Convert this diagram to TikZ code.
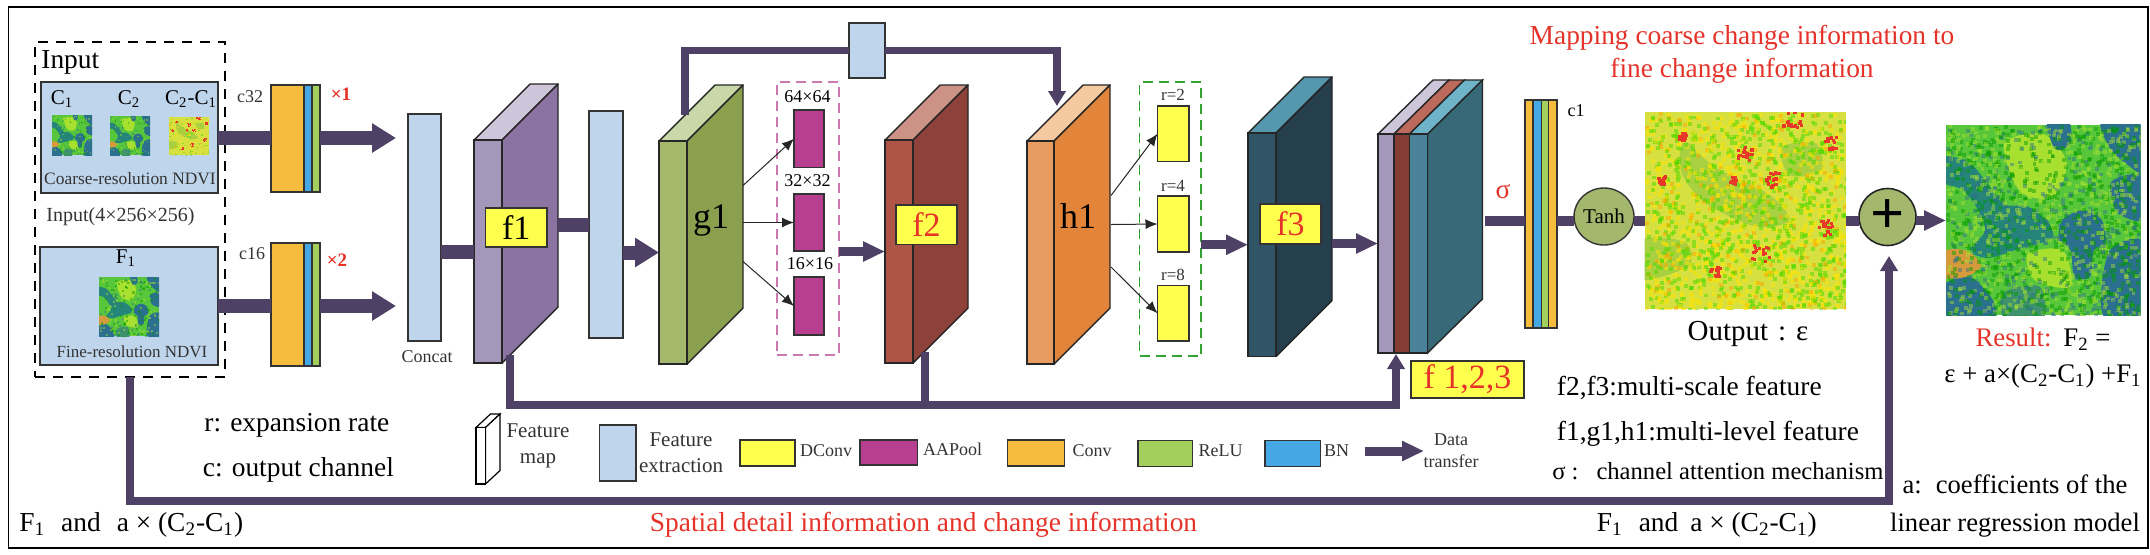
\documentclass[tikz,border=0pt]{standalone}
\usepackage{fontspec}
\setmainfont{Liberation Serif}
\usetikzlibrary{shapes.geometric, arrows.meta}
\definecolor{flowpurple}{HTML}{4F4066}
\definecolor{inputblue}{HTML}{BFD5EB}
\definecolor{dconvyellow}{HTML}{FFFF4D}
\definecolor{poolpurple}{HTML}{B83F90}
\definecolor{convorange}{HTML}{F5BC3E}
\definecolor{bnblue}{HTML}{45A8E4}
\definecolor{relugreen}{HTML}{A3CF5C}
\definecolor{notered}{HTML}{E5332A}
\definecolor{tanhgreen}{HTML}{A3B86C}
\definecolor{fonefront}{HTML}{A597B9}
\definecolor{foneside}{HTML}{8B74A1}
\definecolor{fonetop}{HTML}{CDC6DA}
\definecolor{gonefront}{HTML}{A4B96B}
\definecolor{goneside}{HTML}{8AA04F}
\definecolor{gonetop}{HTML}{C9D8A9}
\definecolor{ftwofront}{HTML}{AE5548}
\definecolor{ftwoside}{HTML}{8E4138}
\definecolor{ftwotop}{HTML}{CC9285}
\definecolor{honefront}{HTML}{E89C60}
\definecolor{honeside}{HTML}{E2843A}
\definecolor{honetop}{HTML}{F5C9A0}
\definecolor{fthreefront}{HTML}{2F5566}
\definecolor{fthreeside}{HTML}{253F4D}
\definecolor{fthreetop}{HTML}{5597AE}
\definecolor{stackbrown}{HTML}{843C33}
\definecolor{stackred}{HTML}{BB6A5C}
\definecolor{stackteal}{HTML}{4A8399}
\definecolor{stackside}{HTML}{376978}
\definecolor{stacktop}{HTML}{6FB3C9}
\definecolor{ndviblue}{HTML}{2C7090}
\definecolor{ndvigreen}{HTML}{58C63A}
\definecolor{ndvilime}{HTML}{A8E030}
\definecolor{ndviorange}{HTML}{D49A3C}
\definecolor{changeyellow}{HTML}{D6E040}
\definecolor{changegreen}{HTML}{A8D040}
\definecolor{changered}{HTML}{E8382A}
\newcommand{\fsz}[2]{\fontsize{#1pt}{#2pt}\selectfont}
% box from its corners, given in pixels
\newcommand{\pxbox}[7][]{%
  \node[minimum width={(#5-(#3))*0.5pt}, minimum height={(#6-(#4))*0.5pt}, inner sep=0pt, outer sep=0pt, #1] (#2)
    at ({(#3+#5)/2},{(#4+#6)/2}) {#7};}
% feature map block: name, x0, ytop, x1, ybottom, depth, front, side, top
\newcommand{\featblock}[9]{%
  \fill[#9, draw=black!85, line width=.7pt, line join=round] (#2,#3) -- ({#2+#6},{#3-#6}) -- ({#4+#6},{#3-#6}) -- (#4,#3) -- cycle;
  \fill[#8, draw=black!85, line width=.7pt, line join=round] (#4,#3) -- ({#4+#6},{#3-#6}) -- ({#4+#6},{#5-#6}) -- (#4,#5) -- cycle;
  \pxbox[draw=black!85, line width=.7pt, fill=#7]{#1}{#2}{#3}{#4}{#5}{}
  \coordinate (#1-r) at ({#4+#6},{(#3+#5-#6)/2});}
% satellite patches: name, corners, speckle count
\newcommand{\finepatch}[6]{%
  \pxbox[fill=ndvigreen]{#1}{#2}{#3}{#4}{#5}{}
  \begin{scope}[shift={(#2,#3)}, x={0.5pt*(#4-#2)}, y={0.5pt*(#3-#5)}]
    \clip (0,0) rectangle (1,1);
    \fill[ndvilime] plot[smooth cycle] coordinates {(.3,.1) (.5,.05) (.62,.2) (.55,.38) (.38,.35)};
    \fill[ndvilime] plot[smooth cycle] coordinates {(.42,.68) (.6,.66) (.64,.85) (.46,.82)};
    \fill[ndviblue!85!green] plot[smooth cycle] coordinates {(-.02,.17) (.12,.2) (.22,.32) (.3,.42) (.42,.43) (.53,.52) (.54,.6) (.38,.65) (.22,.7) (.12,.66) (.2,.56) (.16,.44) (.08,.34) (-.02,.3)};
    \fill[ndviblue] plot[smooth cycle] coordinates {(.6,.5) (.7,.45) (.8,.5) (.82,.62) (.76,.66) (.74,.8) (.66,.8) (.64,.66) (.58,.6)};
    \fill[ndviblue] plot[smooth cycle] coordinates {(.52,-.02) (.63,-.02) (.64,.1) (.56,.13)};
    \fill[ndviblue] plot[smooth cycle] coordinates {(.8,-.02) (1.02,-.02) (1.02,.25) (.92,.2) (.84,.12)};
    \fill[ndviblue] plot[smooth cycle] coordinates {(.85,.3) (1.02,.27) (1.02,.5) (.88,.46)};
    \fill[ndviblue] plot[smooth cycle] coordinates {(.85,.65) (1.02,.62) (1.02,1.02) (.82,1.02) (.8,.85)};
    \fill[ndviblue] plot[smooth cycle] coordinates {(-.02,.85) (.12,.8) (.24,.92) (.24,1.02) (-.02,1.02)};
    \fill[ndviblue!60!ndvigreen] plot[smooth cycle] coordinates {(.3,.88) (.48,.85) (.5,1.02) (.3,1.02)};
    \fill[ndviorange] plot[smooth cycle] coordinates {(-.02,.67) (.1,.66) (.18,.74) (.1,.8) (-.02,.8)};
    \pgfmathsetseed{17}
    \pgfmathsetmacro\spk{min(.035,36/#6)}
    \foreach \i in {1,...,#6} {
      \pgfmathsetmacro\px{rnd}
      \pgfmathsetmacro\py{rnd}
      \pgfmathtruncatemacro\pick{mod(\i,5)}
      \ifnum\pick<2 \def\speck{ndvilime}\else\ifnum\pick=2 \def\speck{ndviblue}\else \def\speck{green!60!black}\fi\fi
      \fill[\speck, opacity=.45] (\px,\py) rectangle +(\spk,\spk);
    }
  \end{scope}}
\newcommand{\changepatch}[6]{%
  \pxbox[fill=changeyellow]{#1}{#2}{#3}{#4}{#5}{}
  \begin{scope}[shift={(#2,#3)}, x={0.5pt*(#4-#2)}, y={0.5pt*(#3-#5)}]
    \clip (0,0) rectangle (1,1);
    \fill[changegreen] plot[smooth cycle] coordinates {(.68,.18) (.85,.16) (.88,.3) (.72,.32)};
    \fill[changegreen] plot[smooth cycle] coordinates {(.2,.15) (.35,.28) (.62,.42) (.72,.55) (.55,.58) (.3,.46) (.18,.3)};
    \fill[changegreen] plot[smooth cycle] coordinates {(-.02,.65) (.2,.66) (.22,.78) (-.02,.85)};
    \pgfmathsetseed{29}
    \pgfmathsetmacro\spk{min(.035,36/#6)}
    \foreach \i in {1,...,#6} {
      \pgfmathsetmacro\px{rnd}
      \pgfmathsetmacro\py{rnd}
      \pgfmathtruncatemacro\pick{mod(\i,9)}
      \ifnum\pick=0 \def\speck{orange!70!yellow}\else\ifnum\pick<5 \def\speck{green!65!yellow!85!black}\else \def\speck{yellow!85!orange}\fi\fi
      \fill[\speck, opacity=.5] (\px,\py) rectangle +(\spk,\spk);
    }
    \foreach \cx/\cy/\cr in {.57/.71/.045, .89/.58/.04, .62/.34/.04, .43/.34/.02, .73/.02/.05, .49/.2/.04, .92/.15/.03, .18/.12/.02, .34/.81/.03, .08/.34/.02} {
      \foreach \k in {1,...,16} {
        \fill[changered] ({\cx+\cr*rand},{\cy+\cr*rand}) rectangle +(.016,.016);
      }
    }
  \end{scope}}
\tikzset{
  txt/.style={inner sep=0pt, anchor=mid, font=\fsz{13.7}{16}},
  txtwest/.style={txt, anchor=mid west},
  redtxt/.style={txt, text=notered},
  small/.style={txt, font=\fsz{9}{11}, text=black!80},
  stacked/.style={anchor=center, align=center},
  plainbox/.style={draw=black!80, line width=.7pt},
  featbox/.style={plainbox, fill=inputblue},
  tagbox/.style={plainbox, fill=dconvyellow, font=\fsz{17}{20}},
  poolbox/.style={plainbox, fill=poolpurple},
  dconvbox/.style={plainbox, fill=dconvyellow},
  convbox/.style={plainbox, fill=convorange},
  bnbox/.style={plainbox, fill=bnblue},
  relubox/.style={plainbox, fill=relugreen},
  bigflow/.style={draw=flowpurple, line width=7pt},
  bigtip/.style={bigflow, -{Triangle[length=12pt,width=14pt]}},
  midflow/.style={draw=flowpurple, line width=4.5pt},
  midtip/.style={midflow, -{Triangle[length=11pt,width=9.5pt]}},
  linkflow/.style={draw=flowpurple, line width=3.7pt},
  linktip/.style={linkflow, -{Triangle[length=7.5pt,width=8.5pt]}},
  thinarrow/.style={draw=black!85, line width=.5pt, -{Latex[length=6pt,width=5pt]}},
}
\begin{document}
\begin{tikzpicture}[x=0.5pt, y=-0.5pt]
  \useasboundingbox (0,0) rectangle (2150,554);
  \pxbox[draw=black, line width=.85pt]{frame}{8.5}{7}{2148}{548}{}

  % input part
  \pxbox[plainbox, fill=inputblue, line width=.9pt]{coarse}{41}{82}{218}{193}{}
  \pxbox[plainbox, fill=inputblue, line width=.9pt]{fine}{40}{247}{218}{365}{}
  \finepatch{cone}{52}{115}{92}{155}{120}
  \finepatch{ctwo}{110}{116}{150}{155}{120}
  \changepatch{cdiff}{169}{117}{209}{155}{120}
  \finepatch{fone}{99}{277}{159}{336}{200}
  \node[txtwest] (inputlab) at (41,64) {Input};
  \node[txt, font=\fsz{10.5}{12}] (conelab) at (62,100) {C\textsubscript{1}};
  \node[txt, font=\fsz{10.5}{12}] (ctwolab) at (129,100) {C\textsubscript{2}};
  \node[txt, font=\fsz{10.5}{12}] (cdifflab) at (191,100) {C\textsubscript{2}-C\textsubscript{1}};
  \node[small, font=\fsz{8.7}{10}] (coarselab) at (130,179.5) {Coarse-resolution NDVI};
  \node[small, font=\fsz{10}{12}] (sizelab) at (120.5,217) {Input(4×256×256)};
  \node[txt, font=\fsz{10.5}{12}] (fonelab) at (126,259) {F\textsubscript{1}};
  \node[small, font=\fsz{8.5}{10}] (finelab) at (132,353) {Fine-resolution NDVI};
  \pxbox[draw=black, line width=.9pt, dash pattern=on 5pt off 4pt]{input}{35}{42}{225}{377}{}

  % first convolutions
  \pxbox[convbox]{convA}{271}{85}{304}{192}{}
  \pxbox[bnbox]{bnA}{304}{85}{312}{192}{}
  \pxbox[relubox]{reluA}{312}{85}{320}{192}{}
  \pxbox[convbox]{convB}{271}{243}{304}{366}{}
  \pxbox[bnbox]{bnB}{304}{243}{312}{366}{}
  \pxbox[relubox]{reluB}{312}{243}{320}{366}{}
  \node[small] (cA) at (250,98) {c32};
  \node[small] (cB) at (252,255) {c16};
  \node[txt, text=notered, font=\fsz{9.5}{11}\bfseries] (timesA) at (341,96) {×1};
  \node[txt, text=notered, font=\fsz{9.5}{11}\bfseries] (timesB) at (337,262) {×2};
  \pxbox[featbox]{concat}{408}{114}{441}{341}{}
  \node[small] (concatlab) at (427,357.5) {Concat};
  \coordinate (inA) at (396,138);
  \coordinate (inB) at (396,306);
  \draw[bigflow] (coarse.east |- inA) -- (convA.west |- inA);
  \draw[bigtip] (reluA.east |- inA) -- (inA);
  \draw[bigflow] (fine.east |- inB) -- (convB.west |- inB);
  \draw[bigtip] (reluB.east |- inB) -- (inB);

  % main branch
  \featblock{fone3d}{474}{140}{502}{363}{56}{fonefront}{foneside}{fonetop}
  \pxbox[tagbox]{ftagA}{485.5}{208}{547}{247}{f1}
  \pxbox[featbox]{featA}{589}{111}{623}{338}{}
  \featblock{gone}{659}{141}{687}{364}{56}{gonefront}{goneside}{gonetop}
  \node[txt, font=\fsz{18}{20}] (gonelab) at (711,224) {g1};
  \pxbox[draw=poolpurple!70!white, line width=.6pt, dash pattern=on 5pt off 3pt]{poolgroup}{777}{82}{839}{355}{}
  \pxbox[poolbox]{poolA}{794}{110}{824}{167.5}{}
  \pxbox[poolbox]{poolB}{794}{194}{824}{251}{}
  \pxbox[poolbox]{poolC}{794}{277}{824}{335}{}
  \node[small, text=black] (poolAlab) at (807.5,97.5) {64×64};
  \node[small, text=black] (poolBlab) at (807.5,182) {32×32};
  \node[small, text=black] (poolClab) at (810,265) {16×16};
  \featblock{ftwo3d}{885}{140}{913}{363}{55}{ftwofront}{ftwoside}{ftwotop}
  \pxbox[tagbox, text=notered]{ftagB}{896}{205}{957}{244.5}{f2}
  \featblock{hone}{1027}{141}{1054}{364}{56}{honefront}{honeside}{honetop}
  \node[txt, font=\fsz{18}{20}] (honelab) at (1078,224) {h1};
  \pxbox[draw=green!55!black!80!white, line width=.6pt, dash pattern=on 5pt off 3pt]{dconvgroup}{1139.5}{82}{1201}{356}{}
  \pxbox[dconvbox]{dconvA}{1157.5}{106}{1189}{161.5}{}
  \pxbox[dconvbox]{dconvB}{1157.5}{196}{1189}{252}{}
  \pxbox[dconvbox]{dconvC}{1157.5}{285.5}{1189}{341}{}
  \node[small, font=\fsz{8.5}{10}] (rA) at (1173,96) {r=2};
  \node[small, font=\fsz{8.5}{10}] (rB) at (1173,186.5) {r=4};
  \node[small, font=\fsz{8.5}{10}] (rC) at (1173,275.5) {r=8};
  \featblock{fthree3d}{1248}{133}{1276}{356.5}{56}{fthreefront}{fthreeside}{fthreetop}
  \pxbox[tagbox, text=notered]{ftagC}{1260}{204}{1321}{244}{f3}
  \fill[stackside, draw=black!85, line width=.7pt] (1427.5,134) -- (1482.5,80) -- (1482.5,299) -- (1427.5,353) -- cycle;
  \fill[fonetop, draw=black!85, line width=.7pt] (1378,134) -- (1433,80) -- (1449,80) -- (1394,134) -- cycle;
  \fill[stackred, draw=black!85, line width=.7pt] (1394,134) -- (1449,80) -- (1464.5,80) -- (1409.5,134) -- cycle;
  \fill[stacktop, draw=black!85, line width=.7pt] (1409.5,134) -- (1464.5,80) -- (1482.5,80) -- (1427.5,134) -- cycle;
  \pxbox[draw=black!85, line width=.7pt, fill=fonefront]{stackA}{1378}{134}{1394}{353}{}
  \pxbox[draw=black!85, line width=.7pt, fill=stackbrown]{stackB}{1394}{134}{1409.5}{353}{}
  \pxbox[draw=black!85, line width=.7pt, fill=stackteal]{stackC}{1409.5}{134}{1427.5}{353}{}
  \pxbox[tagbox, text=notered]{ftagD}{1411}{361}{1524}{398}{f 1,2,3}

  \draw[bigflow] (concat.east |- fone3d.west) -- (fone3d.west);
  \draw[bigflow] (fone3d-r |- featA.west) -- (featA.west);
  \coordinate (gin) at (gone.west);
  \draw[bigtip] (featA.east |- gin) -- (gin);
  \coordinate (goneA) at (743,185.5);
  \coordinate (goneB) at (743,222.5);
  \coordinate (goneC) at (743,261.5);
  \draw[thinarrow] (goneA) -- (poolA.west);
  \draw[thinarrow] (goneB) -- (poolB.west);
  \draw[thinarrow] (goneC) -- (poolC.west);
  \coordinate (ftwoin) at (ftwo3d.west);
  \draw[midtip] (poolgroup.east |- ftwoin) -- (ftwoin);
  \coordinate (honeA) at (1111,195.5);
  \coordinate (honeB) at (1111,224.5);
  \coordinate (honeC) at (1111,267);
  \draw[thinarrow] (honeA) -- (dconvA.west);
  \draw[thinarrow] (honeB) -- (dconvB.west);
  \draw[thinarrow] (honeC) -- (dconvC.west);
  \coordinate (fthreein) at (fthree3d.west);
  \draw[midtip] (dconvgroup.east |- fthreein) -- (fthreein);
  \coordinate (stackin) at (stackA.west);
  \draw[midtip] (fthree3d-r |- stackin) -- (stackin);

  % skip links
  \pxbox[featbox]{skipbox}{849}{23}{885}{78}{}
  \coordinate (gtopin) at (685,115);
  \coordinate (htopin) at (1057,106);
  \draw[linkflow] (gtopin) |- (skipbox.west);
  \draw[linktip] (skipbox.east) -| (htopin);
  \coordinate (fonebot) at (510,355);
  \coordinate (ftwobot) at (925,352);
  \coordinate (stackbot) at (1396,354);
  \coordinate (midbus) at (925,405);
  \draw[linktip] (fonebot) |- (midbus) -| (stackbot);
  \draw[linkflow] (ftwobot) -- (midbus);

  % output part
  \pxbox[convbox]{ctail1}{1525}{100}{1533}{328}{}
  \pxbox[bnbox]{ctail2}{1533}{100}{1541.5}{328}{}
  \pxbox[relubox]{ctail3}{1541.5}{100}{1548.5}{328}{}
  \pxbox[convbox]{ctail4}{1548.5}{100}{1557}{328}{}
  \node[small, text=black] (conelabel) at (1576,112) {c1};
  \node[redtxt] (sigmalab) at (1503,194) {σ};
  \node[ellipse, draw=black!80, line width=.7pt, fill=tanhgreen, minimum width=30pt, minimum height=28.5pt, inner sep=0pt, outer sep=0pt, font=\fsz{10.5}{12}] (tanh) at (1604,216.5) {Tanh};
  \changepatch{output}{1644.5}{112}{1846}{309}{1800}
  \node[circle, draw=black!85, line width=.8pt, fill=tanhgreen, minimum size=28.5pt, inner sep=0pt, outer sep=0pt, font=\fsz{30}{30}\bfseries] (plus) at (1887.5,217) {+};
  \finepatch{result}{1946}{124.5}{2140.5}{315}{1800}
  \coordinate (tailrow) at (1484.5,220.5);
  \draw[midflow, line width=5pt] (tailrow) -- (ctail1.west |- tailrow);
  \draw[midflow, line width=5pt] (ctail4.east |- tailrow) -- (tanh.west |- tailrow);
  \draw[midflow, line width=5pt] (tanh.east |- tailrow) -- (output.west |- tailrow);
  \draw[midflow, line width=5pt] (output.east |- tailrow) -- (plus.west |- tailrow);
  \draw[midtip] (plus.east |- tailrow) -- (result.west |- tailrow);
  \coordinate (lowbus) at (1000,501);
  \coordinate (plusin) at (1889,256);
  \draw[linktip] (input.south) |- (lowbus) -| (plusin);

  % notes
  \node[redtxt, stacked, font=\fsz{13.7}{16.5}] (mapnote) at (1742,54) {Mapping coarse change information to\\fine change information};
  \node[redtxt] (spatialnote) at (923.5,526.5) {Spatial detail information and change information};
  \node[txtwest] (rnote) at (204,427) {r: expansion rate};
  \node[txtwest] (cnote) at (202.5,472) {c: output channel};
  \node[txtwest] (leftnote) at (19,526.5) {F\textsubscript{1}\hspace{8pt}and\hspace{8pt}a × (C\textsubscript{2}-C\textsubscript{1})};
  \node[txtwest] (rightnote) at (1596.5,526.5) {F\textsubscript{1}\hspace{8pt}and\hspace{6pt}a × (C\textsubscript{2}-C\textsubscript{1})};
  \node[txt, font=\fsz{14.5}{17}] (outputlab) at (1748,336) {Output\hspace{5pt}:\hspace{5pt}ε};
  \node[txt, stacked, font=\fsz{13.4}{17.8}] (resultlab) at (2043,358) {\textcolor{notered}{Result:}\hspace{6pt}F\textsubscript{2} =\\ε + a×(C\textsubscript{2}-C\textsubscript{1}) +F\textsubscript{1}};
  \node[txtwest] (scalenote) at (1556.5,390.5) {f2,f3:multi-scale feature};
  \node[txtwest] (levelnote) at (1556.5,435.5) {f1,g1,h1:multi-level feature};
  \node[txtwest, font=\fsz{12.3}{14}] (sigmanote) at (1552,475) {σ\hspace{3pt}:\hspace{9pt}channel attention mechanism};
  \node[txt, stacked, font=\fsz{13.3}{19.3}] (anote) at (2015,506) {a:\hspace{7pt}coefficients of the\\linear regression model};

  % legend
  \fill[white, draw=black, line width=.6pt] (476,427.5) -- (490.5,414) -- (500,414) -- (485.5,427.5) -- cycle;
  \fill[white, draw=black, line width=.6pt] (485.5,427.5) -- (500,414) -- (500,470.5) -- (485.5,484) -- cycle;
  \pxbox[draw=black, line width=.6pt, fill=white]{legmap}{476}{427.5}{485.5}{484}{}
  \node[small, stacked, font=\fsz{10.5}{13}] (legmaplab) at (538,446) {Feature\\map};
  \pxbox[featbox]{legfeat}{599.5}{425}{636}{481}{}
  \node[small, stacked, font=\fsz{10.5}{13}] (legfeatlab) at (681,453) {Feature\\extraction};
  \pxbox[dconvbox]{legdconv}{740}{440}{795}{466}{}
  \node[small] (legdconvlab) at (826,452) {DConv};
  \pxbox[poolbox]{legpool}{860}{440}{917.5}{465}{}
  \node[small] (legpoollab) at (952.5,451) {AAPool};
  \pxbox[convbox]{legconv}{1007.5}{440}{1064.5}{466}{}
  \node[small] (legconvlab) at (1092,452) {Conv};
  \pxbox[relubox]{legrelu}{1138}{440.5}{1192.5}{466.5}{}
  \node[small] (legrelulab) at (1220.5,452) {ReLU};
  \pxbox[plainbox, fill=bnblue]{legbn}{1265}{440.5}{1320.5}{466.5}{}
  \node[small] (legbnlab) at (1336.5,452) {BN};
  \coordinate (legflowA) at (1365,451);
  \coordinate (legflowB) at (1424,451);
  \draw[midtip] (legflowA) -- (legflowB);
  \node[small, stacked] (legflowlab) at (1451,451) {Data\\transfer};
\end{tikzpicture}
\end{document}
